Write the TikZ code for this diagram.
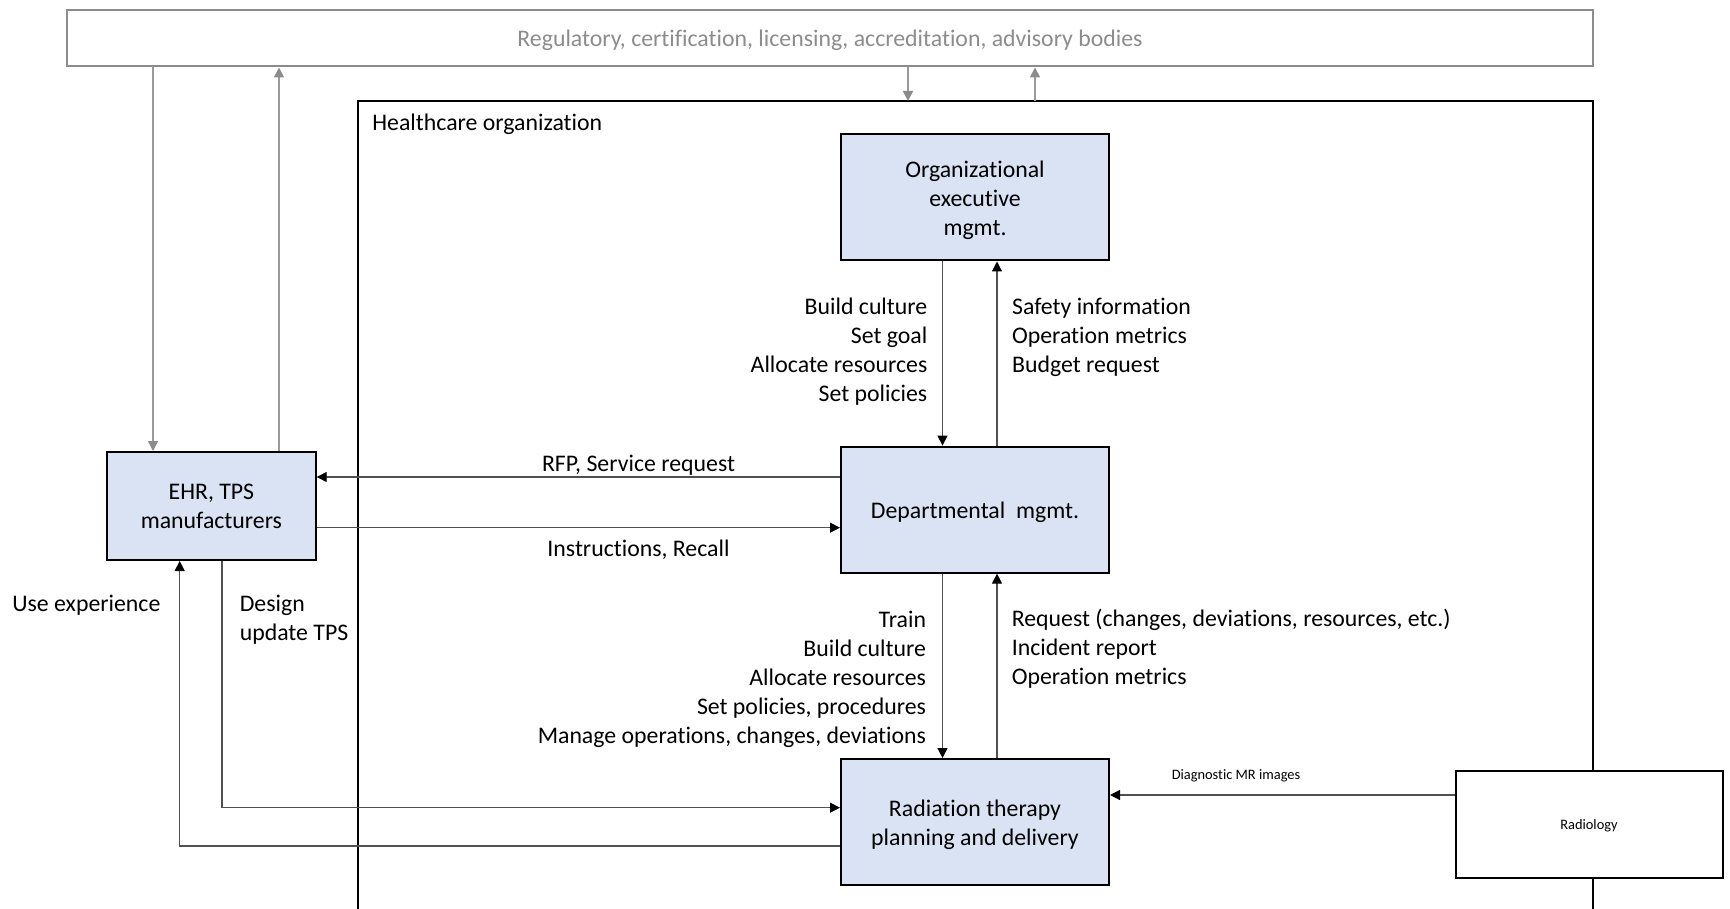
\documentclass[tikz,border=0pt]{standalone}
\usepackage{fontspec}
\setmainfont{Carlito}[Ligatures=NoCommon]
\usetikzlibrary{arrows.meta}
\definecolor{boxblue}{HTML}{DAE3F3}
\definecolor{reggray}{HTML}{8C8C8C}
\definecolor{reglines}{HTML}{9A9A9A}
\definecolor{linegray}{HTML}{505050}

\begin{document}
\begin{tikzpicture}[x=0.5pt,y=-0.5pt,
  mainfont/.style={font=\fontsize{11.9}{14.5}\selectfont},
  smallfont/.style={font=\fontsize{7.2}{8.6}\selectfont},
  lbl/.style={inner sep=0pt, mainfont},
  unitbox/.style={draw=black, line width=1pt, fill=boxblue,
    minimum width=134pt, minimum height=63pt, inner sep=0pt},
  unit/.style={unitbox,
    label={[lbl, align=center, yshift=-1.2pt]center:{#1}}},
  flow/.style={draw=linegray, line width=0.6pt,
    -{Triangle[length=5pt,width=5pt,color=black]}},
  regflow/.style={draw=reglines, line width=0.8pt,
    -{Triangle[length=5pt,width=5pt,color=reggray]}}]

\useasboundingbox (0,0) rectangle (1730,909);

% regulatory bodies
\node[draw=reggray, line width=1pt, minimum width=763pt,
  minimum height=28.25pt, inner sep=0pt] (reg) at (830,38.25) {};
\node[lbl, text=reggray, anchor=base] (regtext) at (830,47)
  {Regulatory, certification, licensing, accreditation, advisory bodies};

% healthcare organization frame (open at the bottom)
\draw[line width=1pt] (357.5,915) -- (357.5,101) -- (1593,101) -- (1593,915);
\coordinate (orgdown) at (908,101);
\coordinate (orgup) at (1035,101);
\node[lbl, anchor=base west] (orglabel) at (372,130.8) {Healthcare organization};

% units
\node[unit={Organizational\\executive\\mgmt.}] (exec) at (975,197.5) {};
\node[unit={Departmental\ \ mgmt.}] (dept) at (975,509.6) {};
\node[unit={Radiation therapy\\planning and delivery}] (rt) at (975,822) {};
\node[unitbox, minimum width=104.3pt, minimum height=54pt, align=center,
  font=\fontsize{11.9}{14.5}\selectfont] (ehr) at (211.4,506) {EHR, TPS\\manufacturers};
\node[draw=black, line width=1pt, fill=white, minimum width=133.5pt,
  minimum height=53.5pt, inner sep=0pt,
  label={[inner sep=0pt, smallfont, yshift=-0.8pt]center:Radiology}] (radio) at (1589,824.5) {};

% regulatory exchanges
\draw[regflow] (orgdown |- reg.south) -- (orgdown);
\draw[regflow] (orgup) -- (orgup |- reg.south);
\coordinate (ehrdown) at ([xshift=-29.2pt]ehr.north);
\coordinate (ehrup) at ([xshift=33.8pt]ehr.north);
\draw[regflow] (ehrdown |- reg.south) -- (ehrdown);
\draw[regflow] (ehrup) -- (ehrup |- reg.south);

% executive <-> department
\draw[flow] ([xshift=-16.25pt]exec.south) -- ([xshift=-16.25pt]dept.north);
\draw[flow] ([xshift=11pt]dept.north) -- ([xshift=11pt]exec.south);
\node[lbl, align=right, anchor=north east] (execdown) at (927.7,298)
  {Build culture\\Set goal\\Allocate resources\\Set policies};
\node[lbl, align=left, anchor=north west] (execup) at (1011.7,298)
  {Safety information\\Operation metrics\\Budget request};

% department <-> radiation therapy
\draw[flow] ([xshift=-16.25pt]dept.south) -- ([xshift=-16.25pt]rt.north);
\draw[flow] ([xshift=11pt]rt.north) -- ([xshift=11pt]dept.south);
\node[lbl, align=right, anchor=north east] (deptdown) at (926.4,610.5)
  {Train\\Build culture\\Allocate resources\\Set policies, procedures\\Manage operations, changes, deviations};
\node[lbl, align=left, anchor=north west] (deptup) at (1011.4,609)
  {Request (changes, deviations, resources, etc.)\\Incident report\\Operation metrics};

% department <-> manufacturers
\coordinate (rfp) at ([yshift=16.3pt]dept.west);
\coordinate (instr) at ([yshift=-10.85pt]ehr.east);
\draw[flow] (rfp) -- (rfp -| ehr.east);
\draw[flow] (instr) -- (instr -| dept.west);
\node[lbl, anchor=base] (rfplabel) at (638.5,471) {RFP, Service request};
\node[lbl, anchor=base] (instrlabel) at (638.5,556) {Instructions, Recall};

% radiation therapy <-> manufacturers
\coordinate (design) at ([xshift=5.3pt]ehr.south);
\coordinate (designin) at ([yshift=7.15pt]rt.west);
\draw[flow] (design) |- (designin);
\coordinate (useout) at ([yshift=-12pt]rt.west);
\coordinate (usein) at ([xshift=-15.85pt]ehr.south);
\draw[flow] (useout) -| (usein);
\node[lbl, anchor=base west] (uselabel) at (12,611.5) {Use experience};
\node[lbl, align=left, anchor=north west] (designlabel) at (239.4,594.5)
  {Design\\update TPS};

% radiology images
\coordinate (mr) at ([yshift=14.75pt]radio.west);
\draw[flow] (mr) -- (mr -| rt.east);
\node[inner sep=0pt, smallfont, anchor=base] (mrlabel) at (1236,779.5)
  {Diagnostic MR images};

\end{tikzpicture}
\end{document}
